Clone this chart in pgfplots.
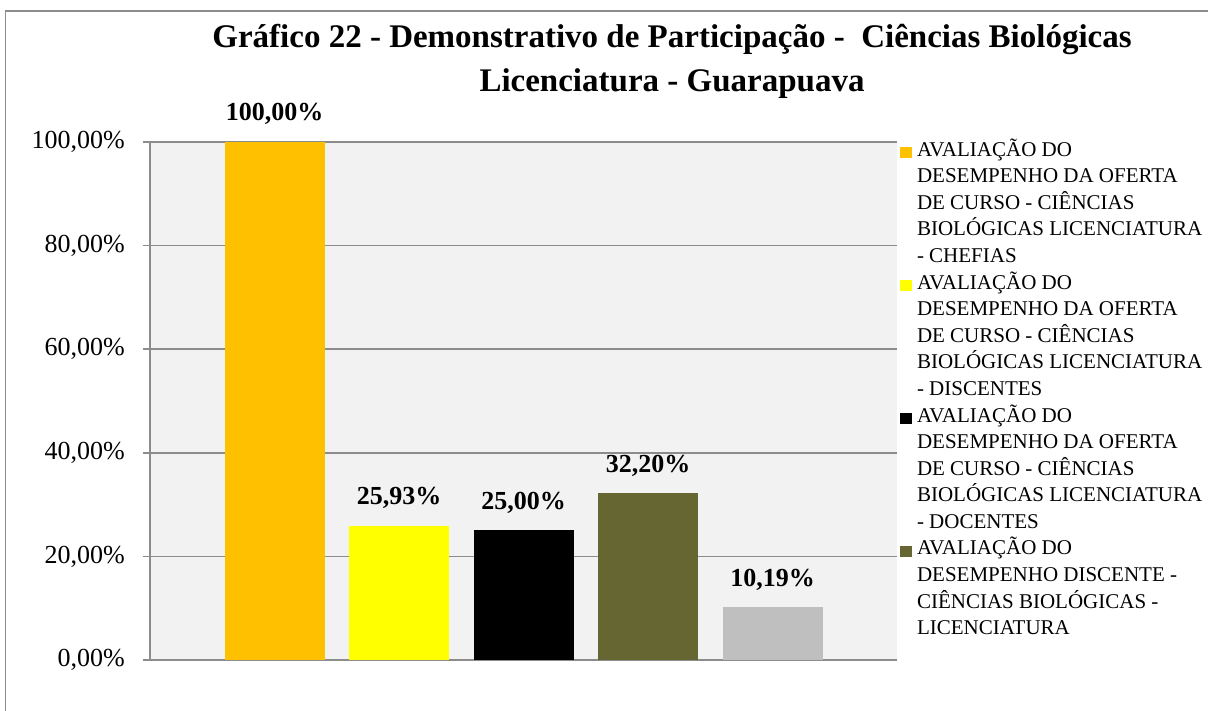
\documentclass[border=0pt]{standalone}
\usepackage{fontspec}
\setmainfont{Liberation Serif}
\usepackage{pgfplots}
\pgfplotsset{compat=1.18}
\definecolor{cOrange}{HTML}{FFC000}
\definecolor{cYellow}{HTML}{FFFF00}
\definecolor{cBlack}{HTML}{000000}
\definecolor{cOlive}{HTML}{666633}
\definecolor{cGray}{HTML}{BFBFBF}
\definecolor{bgc}{HTML}{F2F2F2}
\definecolor{gridgray}{HTML}{8C8C8C}
\definecolor{framegray}{HTML}{8C8C8C}
\newcommand{\legline}[1]{\addlegendimage{empty legend}\addlegendentry{#1}}
\begin{document}
\begin{tikzpicture}
\useasboundingbox (0bp,0bp) rectangle (1208bp,711bp);
\draw[framegray, line width=1.5bp] (5.5bp,-10bp) |- (1220bp,700bp);
\node[font=\bfseries\fontsize{33bp}{38bp}\selectfont, anchor=base, inner sep=0pt] at (672bp,663bp) {Gráfico 22 - Demonstrativo de Participação - \ Ciências Biológicas};
\node[font=\bfseries\fontsize{33bp}{38bp}\selectfont, anchor=base, inner sep=0pt] at (672bp,619bp) {Licenciatura - Guarapuava};
\begin{axis}[
  at={(150bp,51bp)}, anchor=south west,
  scale only axis, width=747bp, height=518bp,
  xmin=-1, xmax=5, ymin=0, ymax=100,
  ybar, bar width=100bp, bar shift=0pt,
  axis background/.style={fill=bgc},
  axis x line*=bottom, axis y line*=left,
  axis line style={draw=gridgray, line width=1.6bp, -},
  ymajorgrids, grid style={draw=gridgray, line width=1.6bp},
  xtick=\empty,
  ytick={0,20,40,60,80,100},
  yticklabels={{0,00\%},{20,00\%},{40,00\%},{60,00\%},{80,00\%},{100,00\%}},
  tick align=outside, major tick length=7bp,
  tick style={draw=gridgray, line width=1.6bp},
  y tick label style={font=\fontsize{26bp}{30bp}\selectfont, inner sep=0pt, xshift=-18bp},
  /pgf/number format/assume math mode=true,
  nodes near coords={\pgfmathprintnumber[fixed,fixed zerofill,precision=2,use comma]{\pgfplotspointmeta}\%},
  every node near coord/.append style={font=\bfseries\fontsize{26bp}{30bp}\selectfont, anchor=base, inner sep=0pt, yshift=21bp, text=black},
  legend cell align=left,
  legend image code/.code={\path[#1,draw=none] (0bp,-7bp) rectangle (12bp,4bp);},
  legend style={draw=none, fill=none, inner sep=0pt, outer sep=0pt,
    at={(1,1)}, anchor=north west, xshift=3bp, yshift=4.6bp,
    row sep=0pt, column sep=5bp,
    nodes={inner sep=0pt, outer sep=0pt, text height=18.6bp, text depth=8bp, font=\fontsize{21bp}{26.6bp}\selectfont}},
]
\addplot[fill=cOrange, draw=none, forget plot] coordinates {(0,100)};
\addplot[fill=cYellow, draw=none, forget plot] coordinates {(1,25.93)};
\addplot[fill=cBlack, draw=none, forget plot] coordinates {(2,25)};
\addplot[fill=cOlive, draw=none, forget plot] coordinates {(3,32.20)};
\addplot[fill=cGray, draw=none, forget plot] coordinates {(4,10.19)};
\addlegendimage{fill=cOrange, draw=none}\addlegendentry{AVALIAÇÃO DO}
\legline{DESEMPENHO DA OFERTA}
\legline{DE CURSO - CIÊNCIAS}
\legline{BIOLÓGICAS LICENCIATURA}
\legline{- CHEFIAS}
\addlegendimage{fill=cYellow, draw=none}\addlegendentry{AVALIAÇÃO DO}
\legline{DESEMPENHO DA OFERTA}
\legline{DE CURSO - CIÊNCIAS}
\legline{BIOLÓGICAS LICENCIATURA}
\legline{- DISCENTES}
\addlegendimage{fill=cBlack, draw=none}\addlegendentry{AVALIAÇÃO DO}
\legline{DESEMPENHO DA OFERTA}
\legline{DE CURSO - CIÊNCIAS}
\legline{BIOLÓGICAS LICENCIATURA}
\legline{- DOCENTES}
\addlegendimage{fill=cOlive, draw=none}\addlegendentry{AVALIAÇÃO DO}
\legline{DESEMPENHO DISCENTE -}
\legline{CIÊNCIAS BIOLÓGICAS -}
\legline{LICENCIATURA}
\end{axis}
\end{tikzpicture}
\end{document}
